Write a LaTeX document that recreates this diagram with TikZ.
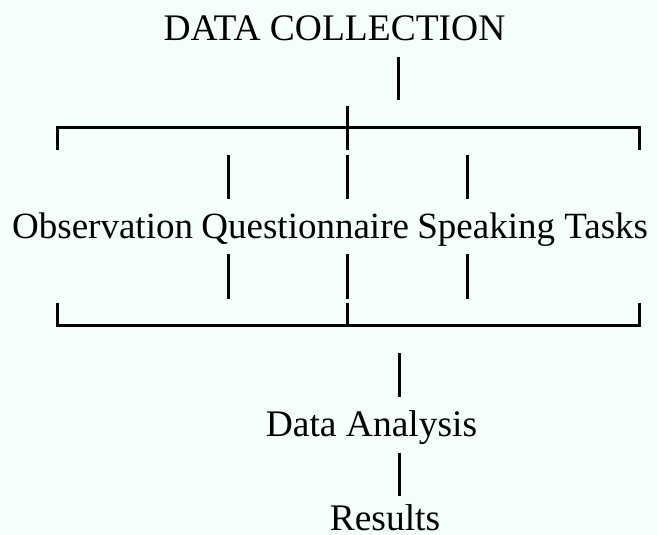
\documentclass[tikz,border=0pt]{standalone}
\usepackage{fontspec}
\setmainfont{Liberation Serif}
\definecolor{pagebg}{HTML}{F5FFFA}
\begin{document}
\begin{tikzpicture}[x=1pt,y=-1pt,
  lbl/.style={anchor=base,inner sep=0pt,font=\fontsize{37.5}{42}\selectfont},
  itm/.style={anchor=base west,inner sep=0pt,font=\fontsize{37}{42}\selectfont},
  bar/.style={line width=3pt,black}]
  \fill[pagebg] (0,0) rectangle (657,535);
  \useasboundingbox (0,0) rectangle (657,535);

  % titles
  \node[lbl] (dc) at (334.5,41) {DATA COLLECTION};
  \node[itm] (obs) at (12,238) {Observation};
  \node[itm] (que) at ([xshift=8pt]obs.base east) {Questionnaire};
  \node[itm] (spk) at ([xshift=8pt]que.base east) {Speaking Tasks};
  \node[lbl] (da) at (371.5,436) {Data Analysis};
  \node[lbl] (res) at (385,530) {Results};

  % bracket corners
  \coordinate (tl) at (57,128);
  \coordinate (tr) at (639,128);
  \coordinate (bl) at (57,325);
  \coordinate (br) at (639,325);

  % stem below the title
  \draw[bar] (398,57) -- (398,100);

  % upper bracket
  \draw[bar] (57,150) -- (tl) -- (tr) -- (639,150);
  \draw[bar] (347,106) -- (347,150);

  % short ticks above and below the three items
  \foreach \x in {228,347,467} {
    \draw[bar] (\x,155) -- (\x,199);
    \draw[bar] (\x,254) -- (\x,299);
  }

  % lower bracket
  \draw[bar] (57,303) -- (bl) -- (br) -- (639,303);
  \draw[bar] (347,303) -- (347,325);

  % stems down to analysis and results
  \draw[bar] (399,353) -- (399,397);
  \draw[bar] (399,453) -- (399,496);
\end{tikzpicture}
\end{document}
